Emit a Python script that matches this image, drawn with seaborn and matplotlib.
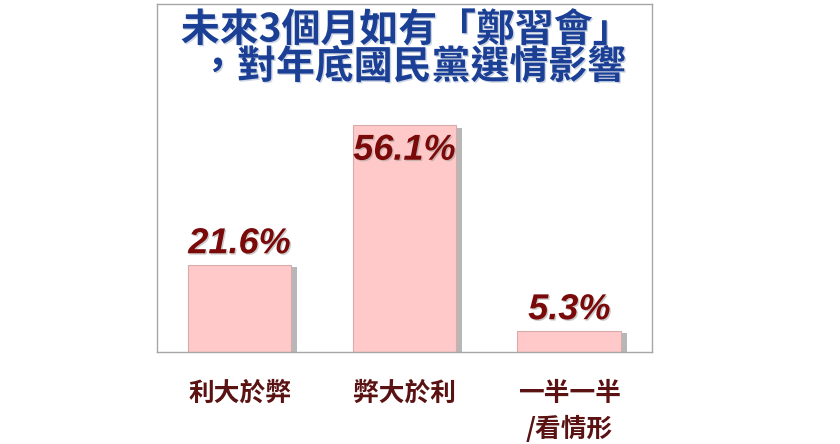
import matplotlib
matplotlib.use("Agg")
import matplotlib.pyplot as plt
import matplotlib.patheffects as pe
from matplotlib import font_manager
import seaborn as sns
import pandas as pd

categories = ['利大於弊', '弊大於利', '一半一半\n/看情形']
values = [21.6, 56.1, 5.3]
value_labels = ['21.6%', '56.1%', '5.3%']
title_line1 = '未來3個月如有「鄭習會」'
title_line2 = '，對年底國民黨選情影響'

sns.set_style('white')
plt.rcParams['font.family'] = ['Noto Sans CJK TC', 'DejaVu Sans']

names = {f.name for f in font_manager.fontManager.ttflist}
num_font = 'Liberation Sans Narrow' if 'Liberation Sans Narrow' in names else 'Liberation Sans'

df = pd.DataFrame({'cat': categories, 'val': values})

fig = plt.figure(figsize=(8.4, 4.44), dpi=100)
ax = fig.add_axes([0.187, 0.2072, 0.589, 0.784])
sns.barplot(data=df, x='cat', y='val', color='#ffc9c9', width=0.63,
            edgecolor='#d9aaaa', linewidth=0.8, saturation=1, ax=ax)
for p in ax.patches:
    p.set_path_effects([pe.SimplePatchShadow(offset=(4, -2), shadow_rgbFace='#888888', alpha=0.6),
                        pe.Normal()])

ax.set_ylim(0, 86)
ax.set_xlim(-0.5, 2.5)
ax.set_xlabel('')
ax.set_ylabel('')
ax.set_yticks([])
ax.tick_params(axis='x', length=0, pad=20)
for lab in ax.get_xticklabels():
    lab.set_fontsize(18.5)
    lab.set_fontweight('bold')
    lab.set_color('#5a1212')
    lab.set_linespacing(1.45)
for s in ax.spines.values():
    s.set_visible(True)
    s.set_color('#a6a6a6')
    s.set_linewidth(1)

for i, (v, t) in enumerate(zip(values, value_labels)):
    if v > 50:
        y = v - 8.6
    else:
        y = v + 2.8
    ax.text(i, y, t, ha='center', va='baseline', fontsize=26, fontweight='bold',
            style='italic', family=num_font, color='#7a0a0a',
            path_effects=[pe.withSimplePatchShadow(offset=(1, -1), shadow_rgbFace='#999999', alpha=0.5)])

shadow = [pe.withSimplePatchShadow(offset=(1, -1), shadow_rgbFace='#8899bb', alpha=0.4)]
fig.text(406 / 840, 1 - 30 / 444, title_line1, ha='center', va='center', fontsize=28,
         fontweight='bold', color='#1a3f95', path_effects=shadow)
fig.text(412 / 840, 1 - 67 / 444, title_line2, ha='center', va='center', fontsize=28,
         fontweight='bold', color='#1a3f95', path_effects=shadow)

fig.savefig('out.png', dpi=100)
